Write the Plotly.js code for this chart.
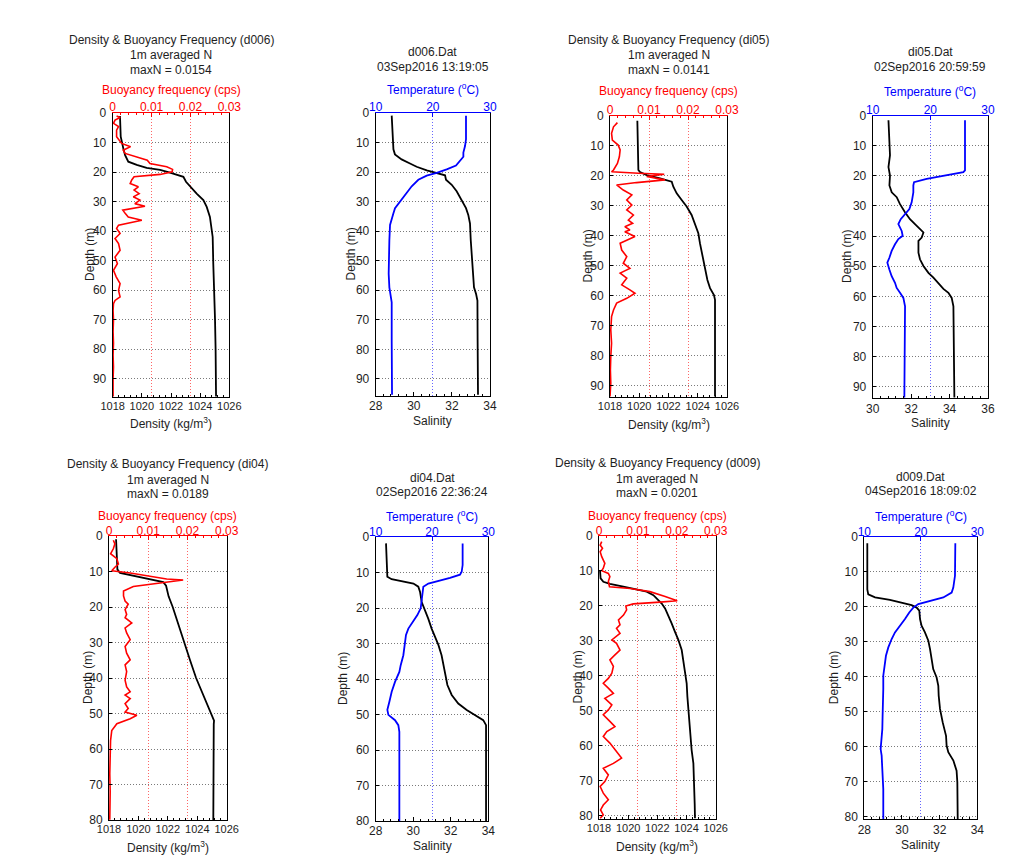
<!DOCTYPE html>
<html>
<head>
<meta charset="utf-8">
<script src="https://cdn.plot.ly/plotly-3.0.1.min.js"></script>
<style>
html,body{margin:0;padding:0;background:#ffffff;}
#chart{width:1027px;height:865px;}
</style>
</head>
<body>
<div id="chart"></div>
<script>
// ---------------- DATA ----------------
// d006 : density (kg/m3) and 1 m averaged buoyancy frequency (cps)
const d006DensDepth = [1, 8, 12, 14.3, 16.5, 17.6, 18.6, 19.3, 20.2, 21, 21.6, 23.3, 25.6, 27.3, 29.5, 31.8, 35.2, 38.6, 42, 51, 60, 70, 80, 96];
const d006Dens = [1018.50, 1018.55, 1018.73, 1018.85, 1019.07, 1019.65, 1020.33, 1021.25, 1021.93, 1022.39, 1022.85, 1023.03, 1023.42, 1023.76, 1024.22, 1024.45, 1024.67, 1024.79, 1024.86, 1024.90, 1024.97, 1025.02, 1025.06, 1025.09];
const d006NDepth = [1, 1.5, 2.4, 3.5, 4.6, 5.8, 8, 9.2, 10.3, 11.4, 12.6, 13.7, 14.8, 16, 17.1, 18.2, 19.1, 19.9, 20.8, 21.6, 22.7, 23.9, 25, 26.1, 27.3, 28.4, 29.5, 30.7, 31.6, 32.9, 34, 35.2, 36.3, 38, 39.1, 40.8, 42.5, 44.2, 46.5, 48.8, 51, 53.3, 55.5, 57.8, 60.1, 62.3, 63.5, 64.6, 66.9, 70, 74, 78, 82, 86, 90, 96];
const d006N = [0.0010, 0.0019, 0.0006, 0.0002, 0.0015, 0.0010, 0.0010, 0.0017, 0.0023, 0.0046, 0.0027, 0.0032, 0.0057, 0.0089, 0.0096, 0.0139, 0.0154, 0.0153, 0.0122, 0.0055, 0.0049, 0.0045, 0.0066, 0.0055, 0.0068, 0.0053, 0.0070, 0.0057, 0.0083, 0.0026, 0.0032, 0.0040, 0.0075, 0.0015, 0.0010, 0.0019, 0.0006, 0.0015, 0.0019, 0.0006, 0.0012, 0.0002, 0.0009, 0.0019, 0.0015, 0.0019, 0.0006, 0.0002, 0.0001, 0.0002, 0.0001, 0.0002, 0.0001, 0.0002, 0.0001, 0.0001];
// d006 : salinity and temperature
const d006SalDepth = [0.9, 10, 12.3, 14, 15.7, 17.1, 18.2, 19.4, 20.3, 21.1, 22.6, 24.3, 26.5, 29.4, 32.2, 34.5, 37.4, 43.1, 48.7, 54.4, 59, 61.3, 63.5, 77.2, 95.4];
const d006Sal = [28.84, 28.89, 28.93, 29.01, 29.36, 29.80, 30.15, 30.68, 31.20, 31.64, 31.69, 31.99, 32.25, 32.51, 32.74, 32.86, 32.95, 32.99, 33.04, 33.09, 33.16, 33.27, 33.34, 33.35, 33.37];
const d006TempDepth = [0.9, 8.9, 11.2, 13.4, 14.8, 17.8, 19.1, 20.3, 21.2, 22.6, 24.8, 27.7, 30.5, 32.2, 34, 35.6, 37.9, 43.1, 48.7, 54.4, 59, 61.8, 64.1, 77.2, 95.4];
const d006Temp = [25.80, 25.80, 25.63, 25.34, 25.34, 24.05, 22.42, 20.67, 18.92, 17.46, 16.30, 15.13, 13.97, 13.38, 13.09, 12.80, 12.51, 12.39, 12.27, 12.27, 12.39, 12.62, 12.80, 12.80, 12.86];

// di05
const di05DensDepth = [1.6, 18, 18.7, 19.7, 20.8, 21.3, 21.9, 23.6, 25.8, 28, 30.2, 33, 35.8, 39.1, 42.4, 46.9, 50.2, 54.7, 57.4, 59.7, 61.3, 93.5];
const di05Dens = [1019.87, 1019.94, 1020.05, 1020.51, 1021.42, 1021.87, 1022.22, 1022.33, 1022.56, 1022.90, 1023.24, 1023.58, 1023.81, 1024.04, 1024.15, 1024.34, 1024.50, 1024.66, 1024.84, 1025.11, 1025.18, 1025.18];
const di05NDepth = [2.2, 3.6, 5.8, 8, 9.7, 11.3, 13.6, 15.8, 18, 18.6, 19.1, 19.4, 20.2, 21.3, 22.2, 23, 24.7, 26.3, 28, 29.7, 31.3, 33, 34.7, 35.8, 36.9, 38, 38.6, 40.2, 42.4, 44.7, 46.9, 49.1, 50.8, 52.4, 54.1, 56.3, 58, 59.1, 60.8, 62.4, 64.7, 66.9, 71.3, 75.8, 80.2, 84.7, 89.1, 93.5];
const di05N = [0.0019, 0.0009, 0.0004, 0.0006, 0.0021, 0.0026, 0.0024, 0.0019, 0.0009, 0.0004, 0.0073, 0.0139, 0.0094, 0.0141, 0.0068, 0.0017, 0.0034, 0.0056, 0.0043, 0.0056, 0.0043, 0.0060, 0.0047, 0.0058, 0.0038, 0.0051, 0.0038, 0.0064, 0.0026, 0.0030, 0.0043, 0.0034, 0.0051, 0.0026, 0.0043, 0.0030, 0.0051, 0.0064, 0.0043, 0.0017, 0.0009, 0.0004, 0.0002, 0.0004, 0.0002, 0.0001, 0.0002, 0.0000];
const di05SalDepth = [1.6, 7.7, 13.2, 17.1, 19.9, 23.2, 25.5, 27.1, 29.4, 32.1, 34.4, 36, 37.5, 38.8, 40.5, 41.6, 45.5, 47.7, 49.9, 52.2, 53.8, 55.5, 57.5, 58.8, 60.5, 63.3, 74.4, 93.5];
const di05Sal = [30.82, 30.87, 30.90, 30.82, 30.90, 30.87, 30.99, 31.25, 31.42, 31.68, 31.94, 32.20, 32.46, 32.64, 32.55, 32.38, 32.38, 32.46, 32.64, 32.90, 33.16, 33.42, 33.68, 33.94, 34.11, 34.20, 34.23, 34.25];
const di05TempDepth = [1.6, 18.2, 18.8, 20.1, 21, 22.1, 23.2, 25.5, 28.8, 31, 32.7, 34.4, 36, 38.3, 39.9, 41, 42.7, 44.9, 47.2, 48.8, 51.1, 53.3, 55.5, 57.2, 58.8, 60.5, 63.3, 74.4, 93.5];
const di05Temp = [26.01, 26.01, 25.72, 22.25, 19.36, 17.17, 17.05, 17.05, 16.76, 16.36, 15.61, 14.86, 14.45, 15.03, 15.20, 14.45, 13.87, 13.29, 12.89, 12.54, 12.89, 13.29, 13.87, 14.16, 14.74, 15.32, 15.61, 15.61, 15.49];

// di04
const di04DensDepth = [0.9, 6.9, 9.4, 10.4, 10.9, 11.6, 12.1, 12.6, 13, 14, 17, 20, 25, 30, 35, 40, 45, 50, 52, 53, 80];
const di04Dens = [1018.48, 1018.52, 1018.57, 1018.75, 1019.31, 1020.11, 1020.67, 1021.24, 1021.69, 1021.88, 1022.05, 1022.33, 1022.71, 1023.10, 1023.51, 1023.92, 1024.41, 1024.91, 1025.14, 1025.12, 1025.09];
const di04NDepth = [1.2, 2.2, 3.6, 5, 6.4, 7.9, 8.8, 9.8, 10.4, 11.2, 12.1, 12.4, 12.9, 13.6, 14.2, 15.5, 16.9, 18.3, 19.2, 20.7, 22.1, 23, 24.5, 25.9, 27.3, 29.2, 31.1, 33, 34.9, 36.3, 38.2, 40.6, 42.5, 43.9, 44.8, 45.8, 47.2, 48.6, 49.6, 50.5, 51.5, 52.9, 54.8, 57.6, 62.4, 67, 72, 76, 79.9];
const di04N = [0.0011, 0.0015, 0.0011, 0.0004, 0.0020, 0.0024, 0.0015, 0.0007, 0.0054, 0.0100, 0.0147, 0.0189, 0.0156, 0.0105, 0.0062, 0.0037, 0.0037, 0.0041, 0.0049, 0.0041, 0.0045, 0.0041, 0.0058, 0.0041, 0.0045, 0.0054, 0.0041, 0.0045, 0.0054, 0.0041, 0.0045, 0.0041, 0.0045, 0.0054, 0.0041, 0.0054, 0.0041, 0.0049, 0.0041, 0.0071, 0.0054, 0.0020, 0.0007, 0.0004, 0.0003, 0.0002, 0.0003, 0.0002, 0.0002];
const di04SalDepth = [1.8, 9.3, 11.2, 11.9, 12.6, 13.1, 14, 15.4, 18.3, 20.6, 23, 25.8, 28.1, 30.4, 33.3, 36.1, 38.9, 41.7, 44.5, 46.9, 48.7, 50.1, 51.6, 53, 80];
const di04Sal = [28.55, 28.59, 28.62, 28.85, 29.47, 30.01, 30.27, 30.36, 30.45, 30.63, 30.80, 30.98, 31.16, 31.34, 31.51, 31.60, 31.69, 31.82, 32.05, 32.40, 32.85, 33.29, 33.73, 33.88, 33.88];
const di04TempDepth = [1.8, 7.9, 9.8, 10.6, 11.5, 12.4, 13.1, 14, 15.4, 18.3, 20.1, 22, 23.9, 25.8, 27.6, 30.4, 33.3, 36.1, 38, 40.8, 43.6, 46.4, 48.7, 50.1, 51.6, 53, 54.9, 80];
const di04Temp = [25.44, 25.44, 25.27, 24.97, 23.20, 20.83, 19.35, 18.46, 18.34, 18.17, 17.99, 17.40, 16.57, 15.80, 15.38, 15.21, 14.91, 14.44, 14.20, 13.43, 12.84, 12.43, 12.07, 12.25, 13.43, 14.02, 14.20, 14.20];

// d009
const d009DensDepth = [9.9, 12.1, 13.1, 13.7, 14.5, 15.3, 15.9, 16.9, 17.8, 19.3, 20.7, 22.6, 25, 27.4, 29.7, 32.6, 35.5, 38.8, 42.1, 46, 49.8, 53.6, 57.4, 61.2, 65, 68.8, 72.6, 76.5, 80.7];
const d009Dens = [1018.07, 1018.11, 1018.30, 1018.75, 1019.67, 1020.58, 1021.27, 1021.73, 1021.95, 1022.30, 1022.53, 1022.75, 1022.98, 1023.21, 1023.44, 1023.67, 1023.78, 1023.90, 1024.01, 1024.06, 1024.13, 1024.19, 1024.24, 1024.35, 1024.47, 1024.51, 1024.54, 1024.56, 1024.58];
const d009NDepth = [1.6, 2.6, 3.5, 4.5, 5.9, 7.8, 9.2, 9.9, 10.7, 11.6, 13, 14.5, 15, 15.9, 17.3, 18.5, 18.9, 19.4, 20, 21.1, 22.6, 24, 25.4, 26.4, 27.8, 29.7, 30.7, 32.6, 34, 35.4, 37.3, 39.2, 40.7, 42.1, 43.5, 45, 46.4, 48.3, 49.7, 51.1, 53, 54.5, 55.9, 57.3, 59.2, 61.6, 63.5, 65, 66.4, 68.3, 70.2, 71.6, 73.5, 75.4, 76.9, 78.3, 79.7, 80.7];
const d009N = [0.0007, 0.0003, 0.0009, 0.0003, 0.0007, 0.0015, 0.0011, 0.0007, 0.0024, 0.0028, 0.0024, 0.0027, 0.0080, 0.0131, 0.0170, 0.0201, 0.0157, 0.0088, 0.0069, 0.0071, 0.0063, 0.0050, 0.0054, 0.0045, 0.0054, 0.0033, 0.0045, 0.0054, 0.0041, 0.0028, 0.0037, 0.0033, 0.0024, 0.0011, 0.0024, 0.0037, 0.0015, 0.0033, 0.0024, 0.0011, 0.0028, 0.0041, 0.0020, 0.0011, 0.0028, 0.0045, 0.0058, 0.0037, 0.0011, 0.0024, 0.0015, 0.0003, 0.0011, 0.0024, 0.0011, 0.0004, 0.0011, 0.0003];
const d009SalDepth = [1.8, 15, 16.4, 17.3, 18, 18.8, 19.5, 20.2, 21.1, 23.5, 25.4, 27.3, 29.7, 32.1, 35, 37.8, 40.2, 42.6, 45.4, 49.2, 53, 56.9, 59.7, 61.6, 64, 66.9, 70.2, 75.7, 80.7];
const d009Sal = [28.16, 28.16, 28.21, 28.57, 29.36, 30.07, 30.51, 30.78, 30.92, 30.96, 31.04, 31.22, 31.40, 31.49, 31.58, 31.66, 31.84, 31.93, 31.95, 32.02, 32.16, 32.34, 32.37, 32.46, 32.73, 32.90, 32.94, 32.94, 32.96];
const d009TempDepth = [1.8, 5.4, 11.1, 14.5, 15.9, 17.3, 18.3, 19.2, 20.2, 21.6, 23.5, 25.4, 27.3, 29.2, 31.6, 34, 36.4, 39.7, 43.5, 47.3, 51.1, 55, 58.8, 60.7, 62.6, 67.3, 72.1, 80.7];
const d009Temp = [26.11, 26.11, 26.05, 25.75, 25.46, 23.98, 21.62, 19.56, 18.67, 17.96, 17.20, 16.31, 15.43, 14.84, 14.25, 13.83, 13.66, 13.36, 13.36, 13.24, 13.24, 13.19, 13.07, 12.89, 13.07, 13.24, 13.36, 13.36];

// text content
const castIds = ['d006', 'di05', 'di04', 'd009'];
const maxNText = ['0.0154', '0.0141', '0.0189', '0.0201'];
const datFiles = ['d006.Dat', 'di05.Dat', 'di04.Dat', 'd009.Dat'];
const castTimes = ['03Sep2016 13:19:05', '02Sep2016 20:59:59', '02Sep2016 22:36:24', '04Sep2016 18:09:02'];

// ---------------- LAYOUT / STYLE ----------------
const W = 1027, H = 865;
const FONT = 'Liberation Sans, Arial, Helvetica, sans-serif';
const TXT = '#1e1e1e';
const RED = '#ff0000', BLUE = '#0000ff';
const DOT = '1px,2px';

// pixel geometry of each panel: [left, right, top, bottom], deepest depth shown, depth ticks max
const panels = [
  {kind:'dn', box:[112.7, 229.3, 113, 397],   ymax:96.2, ytop:90, row:0, cast:0, dens:[d006DensDepth, d006Dens], n:[d006NDepth, d006N]},
  {kind:'ts', box:[375.7, 490.0, 113, 396],   ymax:95.8, ytop:90, row:0, cast:0, salRange:[28,34], sal:[d006SalDepth, d006Sal], temp:[d006TempDepth, d006Temp]},
  {kind:'dn', box:[610.0, 727.0, 116, 397],   ymax:93.7, ytop:90, row:0, cast:1, dens:[di05DensDepth, di05Dens], n:[di05NDepth, di05N]},
  {kind:'ts', box:[872.7, 988.0, 115.5, 398.3], ymax:93.8, ytop:90, row:0, cast:1, salRange:[30,36], sal:[di05SalDepth, di05Sal], temp:[di05TempDepth, di05Temp]},
  {kind:'dn', box:[109.0, 226.7, 536, 820],   ymax:80,   ytop:80, row:1, cast:2, dens:[di04DensDepth, di04Dens], n:[di04NDepth, di04N]},
  {kind:'ts', box:[375.7, 488.3, 537, 821],   ymax:80,   ytop:80, row:1, cast:2, salRange:[28,34], sal:[di04SalDepth, di04Sal], temp:[di04TempDepth, di04Temp]},
  {kind:'dn', box:[599.0, 715.7, 536, 819],   ymax:80.9, ytop:80, row:1, cast:3, dens:[d009DensDepth, d009Dens], n:[d009NDepth, d009N]},
  {kind:'ts', box:[864.3, 977.3, 537, 819.3], ymax:80.8, ytop:80, row:1, cast:3, salRange:[28,34], sal:[d009SalDepth, d009Sal], temp:[d009TempDepth, d009Temp]}
];
const topStandoff = [-4, -5];

// text positions (pixels)
const textPos = [
  {titleY:[40, 55, 70], topT:90, botT:423, depthX:90},
  {titleY:[52, 67],     topT:89, botT:421, depthX:350},
  {titleY:[40, 55, 70], topT:91, botT:424, depthX:587},
  {titleY:[52, 67],     topT:91, botT:423, depthX:847},
  {titleY:[464, 480, 494], topT:516, botT:847, depthX:88},
  {titleY:[478, 492],   topT:516, botT:846, depthX:343},
  {titleY:[463, 479, 493], topT:516, botT:846, depthX:577},
  {titleY:[477, 491],   topT:516, botT:845, depthX:834}
];

const px = v => v / W;
const py = v => 1 - v / H;

const data = [];
const layout = {
  width: W, height: H,
  margin: {l:0, r:0, t:0, b:0},
  paper_bgcolor: '#ffffff', plot_bgcolor: '#ffffff',
  showlegend: false,
  font: {family: FONT, size: 12, color: TXT},
  annotations: []
};

function ann(x, y, text, color, extra) {
  return Object.assign({
    xref:'paper', yref:'paper', x:px(x), y:py(y), text:text, showarrow:false,
    xanchor:'center', yanchor:'middle',
    font:{family:FONT, size:12, color:color || TXT}
  }, extra || {});
}

panels.forEach((p, i) => {
  const k = i + 1;
  const xb = 2 * k - 1, xt = 2 * k;
  const xbName = 'xaxis' + (xb === 1 ? '' : xb);
  const xtName = 'xaxis' + xt;
  const yName = 'yaxis' + (k === 1 ? '' : k);
  const xbRef = 'x' + (xb === 1 ? '' : xb);
  const xtRef = 'x' + xt;
  const yRef = 'y' + (k === 1 ? '' : k);
  const [l, r, t, b] = p.box;
  const isDN = p.kind === 'dn';
  const topColor = isDN ? RED : BLUE;

  const yticks = [];
  for (let v = 0; v <= p.ytop; v += 10) yticks.push(v);

  layout[yName] = {
    domain:[py(b), py(t)], anchor:xbRef,
    range:[p.ymax, 0], tickmode:'array', tickvals:yticks,
    showline:true, mirror:true, linecolor:'#000', linewidth:1,
    ticks:'inside', ticklen:3, tickcolor:'#000',
    ticklabelstandoff: 3,
    showgrid:true, gridcolor:'#7a7a7a', griddash:DOT, gridwidth:1,
    zeroline:false, fixedrange:true,
    tickfont:{family:FONT, size:12, color:TXT}
  };
  const botRange = isDN ? [1018, 1026] : p.salRange;
  layout[xbName] = {
    domain:[px(l), px(r)], anchor:yRef,
    range:botRange, tick0:botRange[0], dtick:2,
    showline:true, mirror:false, linecolor:'#000', linewidth:1,
    ticks:'inside', ticklen:4, tickcolor:'#000',
    ticklabelstandoff: -1,
    minor:{ticks:'inside', tick0:botRange[0], dtick:0.4, ticklen:2, tickcolor:'#000', showgrid:false},
    showgrid:false, zeroline:false, fixedrange:true,
    tickfont:{family:FONT, size:isDN ? 11 : 12, color:TXT}
  };
  const topAxis = {
    overlaying:xbRef, side:'top', anchor:yRef,
    range: isDN ? [0, 0.03] : [10, 30],
    tick0:isDN ? 0 : 10, dtick:isDN ? 0.01 : 10,
    showline:true, linecolor:topColor, linewidth:1,
    ticks:'inside', ticklen:4, tickcolor:topColor,
    ticklabelstandoff: topStandoff[p.row],
    showgrid:true, gridcolor: isDN ? 'rgba(255,0,0,0.6)' : 'rgba(0,0,255,0.6)', griddash:DOT, gridwidth:1,
    zeroline:false, fixedrange:true,
    tickfont:{family:FONT, size:12, color:topColor}
  };
  if (isDN) topAxis.minor = {ticks:'inside', tick0:0, dtick:0.002, ticklen:2, tickcolor:RED, showgrid:false};
  layout[xtName] = topAxis;

  if (isDN) {
    data.push({x:p.dens[1], y:p.dens[0], xaxis:xbRef, yaxis:yRef, type:'scatter', mode:'lines',
               line:{color:'#000000', width:1.8}, hoverinfo:'skip'});
    data.push({x:p.n[1], y:p.n[0], xaxis:xtRef, yaxis:yRef, type:'scatter', mode:'lines',
               line:{color:RED, width:1.6}, hoverinfo:'skip'});
  } else {
    data.push({x:p.sal[1], y:p.sal[0], xaxis:xbRef, yaxis:yRef, type:'scatter', mode:'lines',
               line:{color:'#000000', width:1.8}, hoverinfo:'skip'});
    data.push({x:p.temp[1], y:p.temp[0], xaxis:xtRef, yaxis:yRef, type:'scatter', mode:'lines',
               line:{color:BLUE, width:1.8}, hoverinfo:'skip'});
  }

  // texts
  const tp = textPos[i];
  const cx = (l + r) / 2;
  const c = p.cast;
  if (isDN) {
    const lines = ['Density &amp; Buoyancy Frequency (' + castIds[c] + ')', '1m averaged N', 'maxN = ' + maxNText[c]];
    lines.forEach((s, j) => layout.annotations.push(ann(cx, tp.titleY[j], s)));
    layout.annotations.push(ann(cx, tp.topT, 'Buoyancy frequency (cps)', RED));
    layout.annotations.push(ann(cx, tp.botT, 'Density (kg/m<sup>3</sup>)'));
  } else {
    layout.annotations.push(ann(cx, tp.titleY[0], datFiles[c]));
    layout.annotations.push(ann(cx, tp.titleY[1], castTimes[c]));
    layout.annotations.push(ann(cx, tp.topT, 'Temperature (<sup>o</sup>C)', BLUE));
    layout.annotations.push(ann(cx, tp.botT, 'Salinity'));
  }
  layout.annotations.push(ann(tp.depthX, (t + b) / 2, 'Depth (m)', TXT, {textangle:-90}));
});

Plotly.newPlot('chart', data, layout, {staticPlot:true, displayModeBar:false});
</script>
</body>
</html>
